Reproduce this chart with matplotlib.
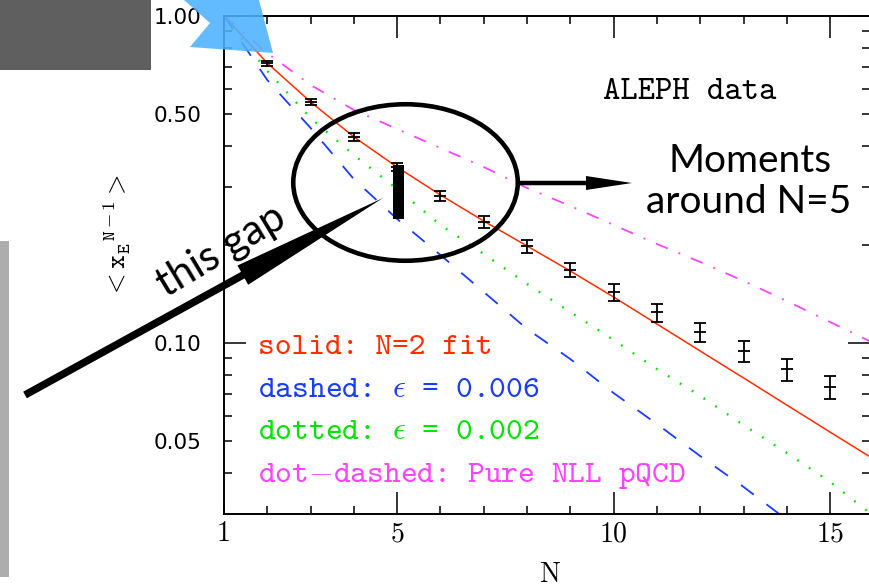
import numpy as np
import matplotlib
matplotlib.use('Agg')
import matplotlib.pyplot as plt
from matplotlib.patches import Rectangle, Polygon, Ellipse, FancyArrow

plt.rcParams['mathtext.fontset'] = 'cm'
plt.rcParams['lines.scale_dashes'] = False

# --- data ----------------------------------------------------------------
N_data = [2, 3, 4, 5, 6, 7, 8, 9, 10, 11, 12, 13, 14, 15]
xe_mean = [0.718, 0.546, 0.427, 0.345, 0.2815, 0.234, 0.198, 0.167,
           0.143, 0.124, 0.108, 0.0945, 0.0832, 0.0733]
xe_err = [0.0126, 0.0115, 0.012, 0.0097, 0.0099, 0.0099, 0.0091, 0.0082,
          0.0084, 0.0079, 0.0072, 0.0070, 0.0064, 0.0059]

N_curve = list(range(1, 17))
fit_n2 = [1.0, 0.718, 0.546, 0.427, 0.345, 0.2836, 0.236, 0.198, 0.166,
          0.1382, 0.1143, 0.0945, 0.0782, 0.0646, 0.0534, 0.0442]
eps_006 = [1.0, 0.637, 0.4545, 0.317, 0.2394, 0.1858, 0.1432, 0.1104,
           0.0893, 0.0703, 0.0565, 0.0451, 0.0363, 0.0288, 0.0231, 0.0185]
eps_002 = [1.0, 0.679, 0.4876, 0.3757, 0.2958, 0.2296, 0.1872, 0.1515,
           0.1244, 0.1021, 0.0832, 0.0689, 0.0561, 0.0461, 0.0376, 0.0296]
pure_nll = [1.0, 0.7703, 0.6152, 0.516, 0.4513, 0.3948, 0.3453, 0.2979,
            0.2624, 0.2296, 0.2008, 0.1769, 0.1548, 0.1344, 0.1159, 0.100]

x_ticks = [1, 5, 10, 15]
y_ticks = [0.05, 0.1, 0.5, 1.0]
y_ticklabels = ['0.05', '0.10', '0.50', '1.00']
legend_lines = ['solid: N=2 fit',
                r'dashed: $\epsilon$ = 0.006',
                r'dotted: $\epsilon$ = 0.002',
                r'dot$-$dashed: Pure NLL pQCD']

RED = '#ff2e00'
BLUE = '#1a3cff'
GREEN = '#00e400'
MAGENTA = '#ff44ff'

W, H = 869, 587
fig = plt.figure(figsize=(W / 100, H / 100), dpi=100)
ax = fig.add_axes([224 / W, 1 - 514 / H, 646 / W, 498 / H])
ax.set_yscale('log')
ax.set_xlim(1, 15.92)
ax.set_ylim(0.03, 1.0)

ax.plot(N_curve, fit_n2, color=RED, lw=1.1)
ax.plot(N_curve, eps_006, color=BLUE, lw=1.3, ls=(0, (11.5, 11.5)))
ax.plot(N_curve, eps_002, color=GREEN, lw=1.7, ls=(0, (1.3, 8.8)))
ax.plot(N_curve, pure_nll, color=MAGENTA, lw=1.3,
        ls=(0, (9.2, 8.3, 1.4, 8.3)))
ax.errorbar(N_data, xe_mean, yerr=xe_err, fmt='_', color='black',
            ms=8.5, mew=1.3, elinewidth=1.3, capsize=4.2, capthick=1.3)

# --- axes look --------------------------------------------------------------
for s in ax.spines.values():
    s.set_linewidth(1.4)
ax.set_xticks(x_ticks, labels=[str(v) for v in x_ticks],
              fontfamily='cmr10', fontsize=20)
ax.set_xticks(range(2, 16), minor=True)
ax.set_yticks(y_ticks, labels=y_ticklabels, fontfamily='DejaVu Sans', fontsize=15.5)
ax.set_yticks([0.04, 0.06, 0.07, 0.08, 0.09, 0.2, 0.3, 0.4, 0.6, 0.7, 0.8, 0.9],
              minor=True)
ax.yaxis.set_minor_formatter(plt.NullFormatter())
ax.tick_params(which='both', direction='in', top=True, right=True, width=1.1)
ax.tick_params(which='major', length=16)
ax.tick_params(which='minor', length=6)
ax.tick_params(axis='x', pad=5)
ax.tick_params(axis='y', pad=16)
# only the decades and 5, 10, 15 get the long marks
for t, v in zip(ax.yaxis.get_major_ticks(), y_ticks):
    if v in (0.05, 0.5):
        t.tick1line.set_markersize(6)
        t.tick2line.set_markersize(6)
for t, v in zip(ax.xaxis.get_major_ticks(), x_ticks):
    if v == 1:
        t.tick1line.set_markersize(6)
        t.tick2line.set_markersize(6)

# --- overlay in pixel units -------------------------------------------------
ov = fig.add_axes([0, 0, 1, 1])
ov.set_xlim(0, W)
ov.set_ylim(H, 0)
ov.axis('off')

ov.text(603, 99, 'ALEPH data', family='cmtt10', fontsize=23.8, va='baseline')
for i, (txt, c) in enumerate(zip(legend_lines, [RED, BLUE, GREEN, MAGENTA])):
    ov.text(258, 354 + i * 42.7, txt, family='cmtt10', fontsize=23,
            color=c, va='baseline')

ov.text(550, 582, 'N', family='cmr10', fontsize=20, ha='center', va='baseline')
ov.text(117, 236, r'$\mathtt{<x}_{\mathtt{E}}{}^{\mathtt{N-1}}\mathtt{>}$',
        fontsize=19, rotation=90, ha='center', va='center')

ov.add_patch(Rectangle((0, 0), 151, 70, color='#5f5f5f', lw=0))
ov.add_patch(Rectangle((0, 241), 9, 336, color='#adadad', lw=0))
ov.add_patch(Polygon([(184, 0), (259, 0), (273, 53), (190, 47), (210, 23)],
                     closed=True, fc='#4db2ff', ec='none', alpha=0.88))

ov.add_patch(Ellipse((405.5, 182.5), 224.5, 156.5, fill=False, ec='black', lw=3.3))
ov.add_patch(Rectangle((393, 165), 11, 54, color='black', lw=0))
ov.add_patch(FancyArrow(520, 183, 112, 0, width=4.5, head_width=14,
                        head_length=46, length_includes_head=True,
                        color='black', lw=0))
ov.add_patch(FancyArrow(25, 395, 358, -197, width=7.5, head_width=22,
                        head_length=160, length_includes_head=True,
                        color='black', lw=0))

ov.text(750, 172, 'Moments', family='Lato', fontsize=28, ha='center', va='baseline')
ov.text(749, 213, 'around N=5', family='Lato', fontsize=28, ha='center', va='baseline')
ov.text(221, 251, 'this gap', family='Lato', fontsize=30, rotation=31,
        rotation_mode='anchor', ha='center', va='center')

fig.savefig('out.png', dpi=100)
